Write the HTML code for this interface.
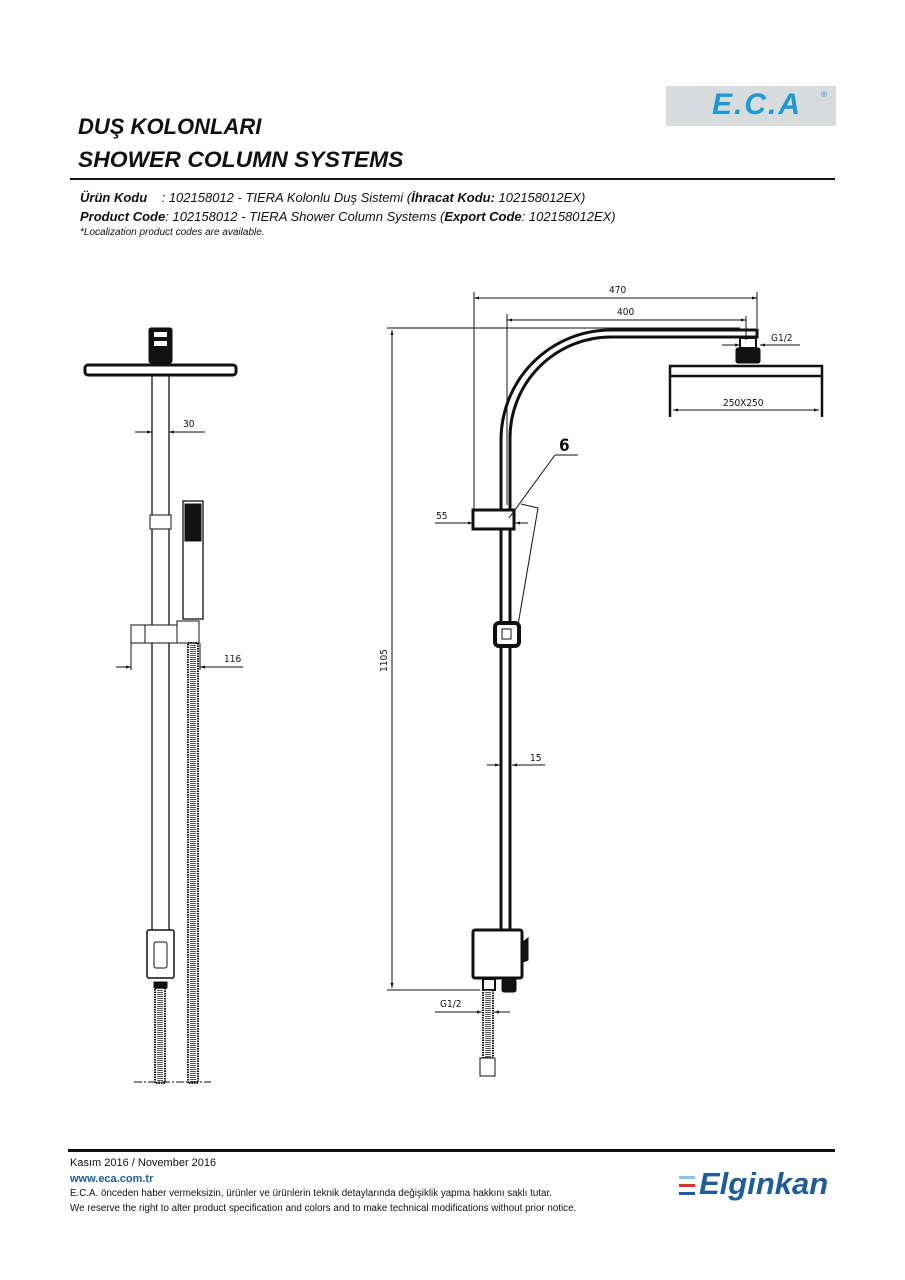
<!DOCTYPE html>
<html><head><meta charset="utf-8"><style>
html,body{margin:0;padding:0;background:#fff;}
body{width:905px;height:1280px;position:relative;overflow:hidden;font-family:"Liberation Sans",sans-serif;}
.t{position:absolute;white-space:nowrap;color:#111;}
</style></head><body>
<div style="position:absolute;left:666px;top:86px;width:170px;height:40px;background:#d9dcdd;"></div>
<div class="t" style="left:712px;top:88px;font:italic bold 30px 'Liberation Sans',sans-serif;color:#1a9ad6;letter-spacing:2px;">E.C.A</div>
<div class="t" style="left:821px;top:90px;font-size:8px;color:#1a9ad6;">®</div>
<div class="t" style="left:78px;top:114px;font:italic bold 22px 'Liberation Sans',sans-serif;">DUŞ KOLONLARI</div>
<div class="t" style="left:78px;top:147px;font:italic bold 22px 'Liberation Sans',sans-serif;transform:scaleX(1.04);transform-origin:left;">SHOWER COLUMN SYSTEMS</div>
<div style="position:absolute;left:70px;top:178px;width:765px;height:2px;background:#111;"></div>
<div class="t" style="left:80px;top:190px;font:italic 13px 'Liberation Sans',sans-serif;"><b>Ürün Kodu</b>&nbsp;&nbsp;&nbsp;&nbsp;: 102158012 - TIERA Kolonlu Duş Sistemi (<b>İhracat Kodu:</b> 102158012EX)</div>
<div class="t" style="left:80px;top:209px;font:italic 13px 'Liberation Sans',sans-serif;"><b>Product Code</b>: 102158012 - TIERA Shower Column Systems (<b>Export Code</b>: 102158012EX)</div>
<div class="t" style="left:80px;top:227px;font:italic 10px 'Liberation Sans',sans-serif;">*Localization product codes are available.</div>

<svg width="905" height="1280" style="position:absolute;left:0;top:0" viewBox="0 0 905 1280" font-family="DejaVu Sans Condensed, Liberation Sans, sans-serif" font-size="10">
<defs><marker id="a" viewBox="0 0 10 10" refX="10" refY="5" markerWidth="7" markerHeight="5" orient="auto-start-reverse"><path d="M0,2L10,5L0,8z" fill="#111"/></marker></defs>
<g stroke="#111" fill="none">
<rect x="149" y="328" width="23" height="35" rx="2" fill="#111"/>
<rect x="154" y="332" width="13" height="5" fill="#fff" stroke="none"/>
<rect x="154" y="341" width="13" height="5" fill="#fff" stroke="none"/>
<rect x="85" y="365" width="151" height="10" rx="3" stroke-width="3"/>
<line x1="152" y1="376" x2="152" y2="930" stroke-width="1.3"/><line x1="169" y1="376" x2="169" y2="930" stroke-width="1.3"/>
<line x1="135" y1="432" x2="152" y2="432" marker-end="url(#a)"/><line x1="205" y1="432" x2="169" y2="432" marker-end="url(#a)"/>
<rect x="150" y="515" width="21" height="14" fill="#fff"/>
<rect x="183" y="501" width="20" height="118" fill="#fff" stroke-width="1.3"/>
<rect x="185" y="504" width="16" height="37" fill="#111"/>
<rect x="131" y="625" width="14" height="18" fill="#fff"/><rect x="145" y="625" width="32" height="18" fill="#fff"/><rect x="177" y="621" width="22" height="22" fill="#fff"/>
<line x1="131" y1="643" x2="131" y2="670"/><line x1="200" y1="643" x2="200" y2="670"/>
<line x1="116" y1="667" x2="131" y2="667" marker-end="url(#a)"/><line x1="243" y1="667" x2="200" y2="667" marker-end="url(#a)"/>
<rect x="188" y="643" width="10" height="440" stroke-width="2" stroke-dasharray="1.5 1"/>
<line x1="193" y1="643" x2="193" y2="1083" stroke-width="6" stroke="#555" stroke-dasharray="1 1"/>
<rect x="147" y="930" width="27" height="48" rx="2" fill="#fff" stroke-width="1.5"/>
<rect x="154" y="942" width="13" height="26" rx="2"/>
<rect x="154" y="982" width="13" height="6" fill="#111"/>
<rect x="155" y="988" width="10" height="95" stroke-width="2" stroke-dasharray="1.5 1"/>
<line x1="160" y1="988" x2="160" y2="1083" stroke-width="6" stroke="#555" stroke-dasharray="1 1"/>
<line x1="134" y1="1082" x2="211" y2="1082" stroke-dasharray="8 2 2 2"/>
<path d="M501,930 V440 A110,110 0 0 1 611,330 H757 V337 H611 A101,101 0 0 0 510,438 V930" stroke-width="3"/>
<rect x="740" y="338" width="16" height="10" stroke-width="2"/>
<rect x="736" y="348" width="24" height="15" rx="2" fill="#111"/>
<rect x="670" y="366" width="152" height="10" stroke-width="2.5"/>
<line x1="670" y1="376" x2="670" y2="417" stroke-width="2.5"/><line x1="822" y1="376" x2="822" y2="417" stroke-width="2.5"/>
<line x1="673" y1="410" x2="819" y2="410" marker-start="url(#a)" marker-end="url(#a)"/>
<line x1="474" y1="292" x2="474" y2="520"/><line x1="757" y1="292" x2="757" y2="328"/>
<line x1="474" y1="298" x2="757" y2="298" marker-start="url(#a)" marker-end="url(#a)"/>
<line x1="507" y1="314" x2="507" y2="505"/><line x1="746" y1="316" x2="746" y2="340"/>
<line x1="507" y1="320" x2="746" y2="320" marker-start="url(#a)" marker-end="url(#a)"/>
<line x1="387" y1="328" x2="740" y2="328"/><line x1="387" y1="990" x2="480" y2="990"/>
<line x1="392" y1="330" x2="392" y2="988" marker-start="url(#a)" marker-end="url(#a)"/>
<line x1="722" y1="345" x2="740" y2="345" marker-end="url(#a)"/><line x1="800" y1="345" x2="760" y2="345" marker-end="url(#a)"/>
<rect x="473" y="510" width="41" height="19" stroke-width="3" fill="#fff"/>
<line x1="435" y1="523" x2="473" y2="523" marker-end="url(#a)"/><line x1="528" y1="523" x2="515" y2="523" marker-end="url(#a)"/>
<line x1="578" y1="455" x2="555" y2="455"/><line x1="555" y1="455" x2="509" y2="518"/>
<path d="M521,504 L538,508 L518,625"/>
<rect x="495" y="623" width="24" height="23" rx="4" stroke-width="4" fill="#fff"/>
<rect x="502" y="629" width="9" height="10" fill="#fff"/>
<line x1="487" y1="765" x2="500" y2="765" marker-end="url(#a)"/><line x1="545" y1="765" x2="512" y2="765" marker-end="url(#a)"/>
<rect x="473" y="930" width="49" height="48" rx="2" stroke-width="3" fill="#fff"/>
<path d="M523,942 L528,938 L528,960 L523,962z" fill="#111"/>
<rect x="483" y="979" width="12" height="11" stroke-width="2"/>
<rect x="502" y="979" width="14" height="13" rx="2" fill="#111"/>
<rect x="483" y="990" width="10" height="68" stroke-width="2" stroke-dasharray="1.5 1"/>
<line x1="488" y1="990" x2="488" y2="1058" stroke-width="6" stroke="#555" stroke-dasharray="1 1"/>
<rect x="480" y="1058" width="15" height="18" fill="#fff"/>
<line x1="435" y1="1012" x2="482" y2="1012" marker-end="url(#a)"/><line x1="510" y1="1012" x2="494" y2="1012" marker-end="url(#a)"/>
</g>
<g fill="#111">
<text x="183" y="427">30</text><text x="224" y="662">116</text>
<text x="609" y="293">470</text><text x="617" y="315">400</text>
<text x="771" y="341">G1/2</text><text x="723" y="406">250X250</text>
<text x="436" y="519">55</text><text x="530" y="761">15</text><text x="440" y="1007">G1/2</text>
<text x="0" y="0" transform="translate(387,672) rotate(-90)">1105</text>
<text x="559" y="451" font-size="17" font-weight="bold">6</text>
</g>
</svg>

<div style="position:absolute;left:68px;top:1149px;width:767px;height:3px;background:#111;"></div>
<div class="t" style="left:70px;top:1157px;font-size:11px;">Kasım 2016 / November 2016</div>
<div class="t" style="left:70px;top:1173px;font-size:11px;font-weight:bold;color:#1f5c99;">www.eca.com.tr</div>
<div class="t" style="left:70px;top:1188px;font-size:9.8px;">E.C.A. önceden haber vermeksizin, ürünler ve ürünlerin teknik detaylarında değişiklik yapma hakkını saklı tutar.</div>
<div class="t" style="left:70px;top:1203px;font-size:9.8px;">We reserve the right to alter product specification and colors and to make technical modifications without prior notice.</div>
<div style="position:absolute;left:679px;top:1176px;width:16px;height:3px;background:#8fc3e8;"></div>
<div style="position:absolute;left:679px;top:1184px;width:16px;height:3px;background:#d9342b;"></div>
<div style="position:absolute;left:679px;top:1192px;width:16px;height:3px;background:#1f5c99;"></div>
<div class="t" style="left:699px;top:1166px;font:italic bold 31px 'Liberation Sans',sans-serif;color:#1f5c99;">Elginkan</div>
</body></html>
